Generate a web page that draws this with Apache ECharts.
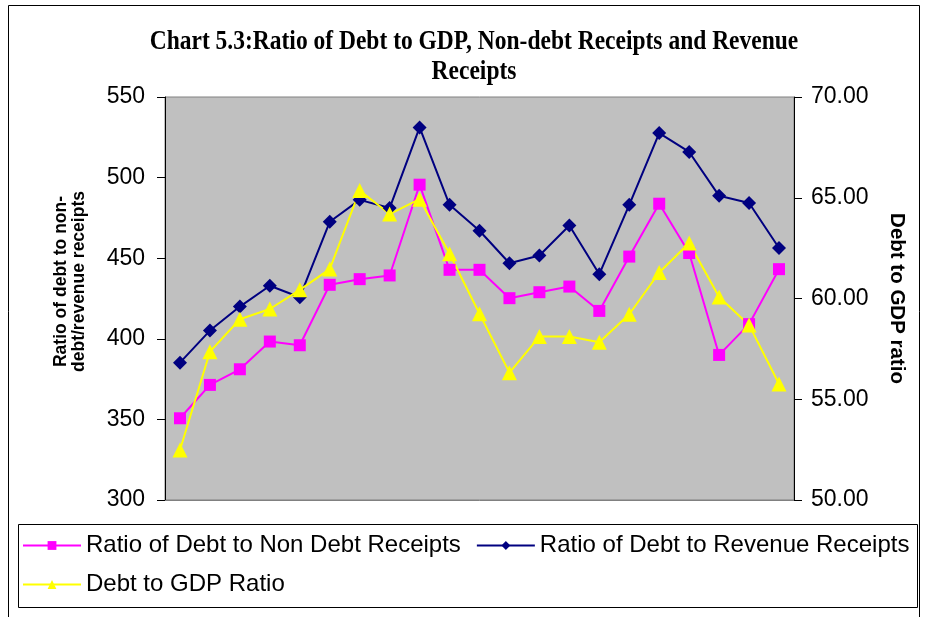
<!DOCTYPE html>
<html>
<head>
<meta charset="utf-8">
<script src="https://cdn.jsdelivr.net/npm/echarts@6/dist/echarts.min.js"></script>
<style>
html,body{margin:0;padding:0;background:#fff;}
#chart{width:925px;height:617px;}
</style>
</head>
<body>
<div id="chart"></div>
<script>
var categories = ['1','2','3','4','5','6','7','8','9','10','11','12','13','14','15','16','17','18','19','20','21'];
var debtToNonDebt = [350.7, 371.4, 381.1, 398.3, 396.0, 433.5, 437.0, 439.3, 495.6, 442.8, 442.8, 425.2, 428.9, 432.4, 417.3, 451.0, 483.8, 453.2, 390.0, 409.1, 443.2];
var debtToRevenue = [385.2, 405.1, 420.0, 432.9, 425.8, 472.6, 486.2, 481.1, 531.1, 483.1, 467.0, 446.9, 451.7, 470.3, 440.1, 483.1, 527.6, 515.9, 488.7, 484.2, 456.3];
var debtToGDP = [52.48, 57.36, 58.97, 59.48, 60.43, 61.46, 65.36, 64.19, 64.93, 62.22, 59.24, 56.32, 58.11, 58.11, 57.83, 59.22, 61.29, 62.75, 60.07, 58.69, 55.76];
var titleLines = ['Chart 5.3:Ratio of Debt to GDP, Non-debt Receipts and Revenue', 'Receipts'];

var chart = echarts.init(document.getElementById('chart'), null, {renderer: 'canvas'});
var titleFont = {fontFamily: 'Liberation Serif', fontWeight: 'bold', fontSize: 23.5, fill: '#000', align: 'center', verticalAlign: 'middle'};
var option = {
  backgroundColor: '#ffffff',
  animation: false,
  graphic: [
    {type: 'rect', shape: {x: 8.5, y: 5.5, width: 911, height: 640}, style: {fill: 'none', stroke: '#000', lineWidth: 1}, z: -1},
    {type: 'rect', shape: {x: 18.5, y: 524.5, width: 899, height: 83}, style: {fill: '#fff', stroke: '#000', lineWidth: 1}, z: -1},
    {type: 'text', x: 474, y: 42, scaleY: 1.2, style: Object.assign({text: titleLines[0]}, titleFont)},
    {type: 'text', x: 474, y: 72, scaleY: 1.2, style: Object.assign({text: titleLines[1]}, titleFont)}
  ],
  legend: {
    left: 22,
    top: 533.5,
    width: 890,
    padding: 0,
    itemGap: 15,
    itemWidth: 58,
    itemHeight: 11,
    textStyle: {fontFamily: 'Liberation Sans', fontSize: 24, lineHeight: 23, color: '#000'},
    data: ['Ratio of Debt to Non Debt Receipts', 'Ratio of Debt to Revenue Receipts', 'Debt to GDP Ratio']
  },
  grid: {
    left: 165, right: 131, top: 97, bottom: 117,
    show: true, backgroundColor: '#c0c0c0', borderColor: '#808080', borderWidth: 1
  },
  xAxis: {
    type: 'category',
    data: categories,
    boundaryGap: true,
    axisLine: {show: true, lineStyle: {color: '#808080', width: 1}},
    axisTick: {show: false},
    axisLabel: {show: false},
    splitLine: {show: false}
  },
  yAxis: [
    {
      type: 'value', min: 300, max: 550, interval: 50, position: 'left',
      name: 'Ratio of debt to non-\ndebt/revenue receipts',
      nameLocation: 'middle', nameGap: 77, nameRotate: 90,
      nameTextStyle: {fontFamily: 'Liberation Sans', fontWeight: 'bold', fontSize: 17.5, lineHeight: 18, color: '#000', padding: [0, 0, 0, 34]},
      axisLine: {show: true, lineStyle: {color: '#000', width: 1}},
      axisTick: {show: true, inside: false, length: 8, lineStyle: {color: '#000'}},
      axisLabel: {fontFamily: 'Liberation Sans', fontSize: 23, color: '#000', margin: 20},
      splitLine: {show: false}
    },
    {
      type: 'value', min: 50, max: 70, interval: 5, position: 'right',
      name: 'Debt to GDP ratio',
      nameLocation: 'middle', nameGap: 92, nameRotate: -90,
      nameTextStyle: {fontFamily: 'Liberation Sans', fontWeight: 'bold', fontSize: 20.5, color: '#000'},
      axisLine: {show: true, lineStyle: {color: '#000', width: 1}},
      axisTick: {show: true, inside: false, length: 8, lineStyle: {color: '#000'}},
      axisLabel: {fontFamily: 'Liberation Sans', fontSize: 23, color: '#000', margin: 17, formatter: function (v) { return v.toFixed(2); }},
      splitLine: {show: false}
    }
  ],
  series: [
    {
      name: 'Ratio of Debt to Non Debt Receipts', type: 'line', yAxisIndex: 0,
      data: debtToNonDebt,
      symbol: 'rect', symbolSize: 12,
      lineStyle: {color: '#ff00ff', width: 2},
      itemStyle: {color: '#ff00ff'}
    },
    {
      name: 'Ratio of Debt to Revenue Receipts', type: 'line', yAxisIndex: 0,
      data: debtToRevenue,
      symbol: 'diamond', symbolSize: 14,
      lineStyle: {color: '#000080', width: 2},
      itemStyle: {color: '#000080'}
    },
    {
      name: 'Debt to GDP Ratio', type: 'line', yAxisIndex: 1,
      data: debtToGDP,
      symbol: 'triangle', symbolSize: 15,
      lineStyle: {color: '#ffff00', width: 2},
      itemStyle: {color: '#ffff00'}
    }
  ]
};
chart.setOption(option);
</script>
</body>
</html>
